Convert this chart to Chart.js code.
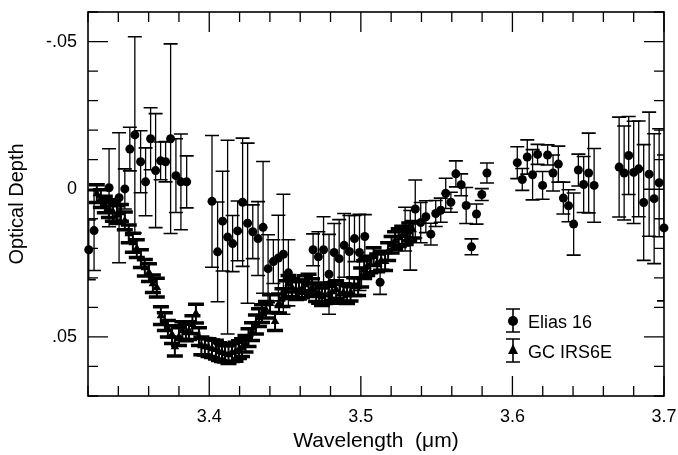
<!DOCTYPE html>
<html>
<head>
<meta charset="utf-8">
<script src="https://cdn.jsdelivr.net/npm/chart.js@4.4.0/dist/chart.umd.min.js"></script>
<style>
    html, body { margin: 0; padding: 0; background: #fff; }
    #myChart { display: block; }
</style>
</head>
<body>
<canvas id="myChart" width="678" height="455"></canvas>
<script>
// Elias 16 (circles)
var eliasX = [3.3205,3.3240,3.3339,3.3405,3.3443,3.3476,3.3509,3.3547,3.3580,3.3613,3.3646,3.3679,3.3712,3.3745,3.3780,3.3813,3.3851,
    3.4018,3.4055,3.4088,3.4121,3.4154,3.4187,3.4220,3.4253,3.4287,3.4322,3.4355,3.4388,3.4423,3.4456,3.4489,3.4522,
    3.4685,3.4720,3.4754,3.4790,3.4824,3.4857,3.4890,3.4924,3.4958,3.4991,3.5026,3.5127,
    3.5292,3.5326,3.5359,3.5395,3.5429,3.5462,3.5494,3.5527,3.5560,3.5594,3.5627,3.5662,3.5695,3.5730,3.5763,3.5798,3.5832,
    3.6032,3.6065,3.6098,3.6133,3.6166,3.6199,3.6232,3.6268,3.6303,3.6336,3.6370,3.6404,3.6435,3.6470,3.6503,3.6539,
    3.6704,3.6737,3.6767,3.6800,3.6833,3.6866,3.6902,3.6935,3.6968,3.7000];
var eliasY = [0.0205,0.0140,-0.0005,0.0029,-0.0001,-0.0136,-0.0184,-0.0093,-0.0025,-0.0171,-0.0063,-0.0096,-0.0093,-0.0171,-0.0046,-0.0025,-0.0025,
    0.0041,0.0212,0.0108,0.0162,0.0184,0.0141,0.0044,0.0115,0.0144,0.0167,0.0129,0.0269,0.0245,0.0233,0.0220,0.0283,
    0.0205,0.0229,0.0205,0.0288,0.0214,0.0235,0.0190,0.0211,0.0167,0.0214,0.0160,0.0315,
    0.0135,0.0173,0.0067,0.0113,0.0093,0.0152,0.0082,0.0071,0.0014,0.0044,-0.0052,-0.0015,0.0055,0.0195,0.0084,0.0018,-0.0055,
    -0.0090,-0.0033,-0.0109,-0.0049,-0.0118,-0.0013,-0.0116,-0.0055,-0.0085,0.0030,0.0056,0.0118,-0.0065,-0.0016,-0.0055,-0.0013,
    -0.0075,-0.0055,-0.0114,-0.0057,-0.0069,0.0045,-0.0051,0.0032,-0.0022,0.0131];
var eliasErr = [0.0101,0.0135,0.0132,0.0220,0.0068,0.0074,0.0332,0.0105,0.0115,0.0105,0.0193,0.0064,0.0068,0.0321,0.0125,0.0162,0.0088,
    0.0223,0.0169,0.0169,0.0328,0.0095,0.0101,0.0217,0.0271,0.0091,0.0125,0.0223,0.0115,0.0074,0.0145,0.0203,0.0112,
    0.0054,0.0085,0.0112,0.0135,0.0098,0.0132,0.0108,0.0122,0.0078,0.0129,0.0074,0.0041,
    0.0074,0.0101,0.0098,0.0068,0.0054,0.0037,0.0044,0.0041,0.0051,0.0034,0.0044,0.0037,0.0061,0.0027,0.0034,0.0020,0.0034,
    0.0054,0.0037,0.0058,0.0085,0.0034,0.0047,0.0034,0.0061,0.0061,0.0054,0.0054,0.0105,0.0054,0.0095,0.0135,0.0125,
    0.0169,0.0159,0.0132,0.0173,0.0162,0.0196,0.0210,0.0220,0.0183,0.0247];

// GC IRS6E (triangles)
var gcX = [3.3258,3.3285,3.3311,3.3338,3.3364,3.3391,3.3417,3.3443,3.3469,3.3496,
    3.3522,3.3549,3.3575,3.3602,3.3628,3.3654,3.3681,3.3707,3.3727,3.3754,
    3.3773,3.3800,3.3823,3.3846,3.3866,3.3889,3.3912,3.3932,3.3948,3.3971,
    3.3995,3.4018,3.4044,3.4064,3.4084,3.4104,3.4127,3.4150,3.4173,3.4196,
    3.4216,3.4239,3.4259,3.4282,3.4308,3.4328,3.4348,3.4374,3.4401,3.4434,
    3.4460,3.4483,3.4506,3.4523,3.4546,3.4572,3.4592,3.4612,3.4632,3.4655,
    3.4678,3.4705,3.4725,3.4744,3.4764,3.4787,3.4810,3.4837,3.4863,3.4886,
    3.4909,3.4932,3.4956,3.4982,3.5002,3.5022,3.5042,3.5062,3.5084,3.5108,
    3.5134,3.5160,3.5180,3.5203,3.5226,3.5250,3.5273,3.5296,3.5319,3.5342];
var gcY = [0.0015,0.0032,0.0052,0.0066,0.0076,0.0086,0.0080,0.0107,0.0151,0.0181,
    0.0201,0.0235,0.0266,0.0282,0.0320,0.0333,0.0428,0.0448,0.0472,0.0492,
    0.0533,0.0499,0.0479,0.0485,0.0479,0.0458,0.0421,0.0499,0.0530,0.0533,
    0.0536,0.0540,0.0543,0.0550,0.0553,0.0557,0.0560,0.0553,0.0550,0.0543,
    0.0536,0.0523,0.0502,0.0482,0.0458,0.0435,0.0421,0.0408,0.0387,0.0448,
    0.0387,0.0367,0.0340,0.0320,0.0333,0.0343,0.0340,0.0337,0.0323,0.0316,
    0.0333,0.0350,0.0354,0.0364,0.0357,0.0357,0.0347,0.0340,0.0354,0.0350,
    0.0357,0.0350,0.0330,0.0330,0.0299,0.0272,0.0262,0.0255,0.0228,0.0249,
    0.0242,0.0245,0.0211,0.0188,0.0174,0.0164,0.0157,0.0157,0.0144,0.0137];
var gcErr = [0.0030,0.0030,0.0028,0.0030,0.0032,0.0030,0.0028,0.0030,0.0030,0.0032,
    0.0030,0.0030,0.0028,0.0030,0.0030,0.0032,0.0030,0.0030,0.0028,0.0030,
    0.0032,0.0030,0.0030,0.0028,0.0030,0.0030,0.0032,0.0030,0.0030,0.0028,
    0.0030,0.0030,0.0032,0.0030,0.0030,0.0028,0.0030,0.0030,0.0032,0.0030,
    0.0030,0.0028,0.0030,0.0030,0.0032,0.0030,0.0030,0.0028,0.0030,0.0030,
    0.0032,0.0030,0.0030,0.0028,0.0030,0.0030,0.0032,0.0030,0.0030,0.0028,
    0.0030,0.0030,0.0032,0.0030,0.0030,0.0028,0.0030,0.0030,0.0032,0.0030,
    0.0030,0.0028,0.0030,0.0030,0.0032,0.0030,0.0030,0.0028,0.0030,0.0030,
    0.0032,0.0030,0.0030,0.0028,0.0030,0.0030,0.0032,0.0030,0.0030,0.0028];

var xMajor = [3.4, 3.5, 3.6, 3.7];
var yLabels = {'-0.05': '-.05', '0': '0', '0.05': '.05'};

var FONT = "'Liberation Sans', Arial, Helvetica, sans-serif";

function toPoints(xs, ys) {
    return xs.map(function(x, i){ return {x: x, y: ys[i]}; });
}

// error bars drawn under the markers
var errorBars = {
    id: 'errorBars',
    beforeDatasetsDraw: function(chart) {
        var ctx = chart.ctx, a = chart.chartArea;
        var xs = chart.scales.x, ys = chart.scales.y;
        var sets = [
            {x: eliasX, y: eliasY, e: eliasErr, lw: 1.3, capW: 1.6, cap: 7},
            {x: gcX, y: gcY, e: gcErr, lw: 2, capW: 3.5, cap: 8}
        ];
        ctx.save();
        ctx.beginPath();
        ctx.rect(a.left, a.top, a.right - a.left, a.bottom - a.top);
        ctx.clip();
        ctx.strokeStyle = '#000';
        sets.forEach(function(s){
            for (var i = 0; i < s.x.length; i++) {
                var px = xs.getPixelForValue(s.x[i]);
                var y1 = ys.getPixelForValue(s.y[i] - s.e[i]);
                var y2 = ys.getPixelForValue(s.y[i] + s.e[i]);
                ctx.lineWidth = s.lw;
                ctx.beginPath();
                ctx.moveTo(px, y1); ctx.lineTo(px, y2);
                ctx.stroke();
                ctx.lineWidth = s.capW;
                ctx.beginPath();
                ctx.moveTo(px - s.cap, y1); ctx.lineTo(px + s.cap, y1);
                ctx.moveTo(px - s.cap, y2); ctx.lineTo(px + s.cap, y2);
                ctx.stroke();
            }
        });
        ctx.restore();
    }
};

// frame with inward ticks on all four sides, plus the legend
var frameTicks = {
    id: 'frameTicks',
    afterDraw: function(chart) {
        var ctx = chart.ctx, a = chart.chartArea;
        var xs = chart.scales.x, ys = chart.scales.y;
        ctx.save();
        ctx.strokeStyle = '#000';
        ctx.lineWidth = 1.6;
        ctx.strokeRect(a.left, a.top, a.right - a.left, a.bottom - a.top);
        ctx.lineWidth = 1.3;
        ctx.beginPath();
        xs.ticks.forEach(function(t){
            var px = xs.getPixelForValue(t.value);
            var len = t.label ? 20 : 10;
            ctx.moveTo(px, a.bottom); ctx.lineTo(px, a.bottom - len);
            ctx.moveTo(px, a.top); ctx.lineTo(px, a.top + len);
        });
        ys.ticks.forEach(function(t){
            var py = ys.getPixelForValue(t.value);
            var len = t.label ? 20 : 10;
            ctx.moveTo(a.left, py); ctx.lineTo(a.left + len, py);
            ctx.moveTo(a.right, py); ctx.lineTo(a.right - len, py);
        });
        ctx.stroke();

        // legend
        var lx = 513;
        ctx.lineWidth = 1.6;
        ctx.beginPath();
        ctx.moveTo(lx, 309); ctx.lineTo(lx, 332);
        ctx.moveTo(lx - 7, 309); ctx.lineTo(lx + 7, 309);
        ctx.moveTo(lx - 7, 332); ctx.lineTo(lx + 7, 332);
        ctx.moveTo(lx, 339); ctx.lineTo(lx, 362);
        ctx.moveTo(lx - 7, 339); ctx.lineTo(lx + 7, 339);
        ctx.moveTo(lx - 7, 362); ctx.lineTo(lx + 7, 362);
        ctx.stroke();
        ctx.fillStyle = '#000';
        ctx.beginPath();
        ctx.arc(lx, 321, 5, 0, Math.PI * 2);
        ctx.fill();
        ctx.beginPath();
        ctx.moveTo(lx, 344); ctx.lineTo(lx + 5, 354); ctx.lineTo(lx - 5, 354);
        ctx.closePath();
        ctx.fill();
        ctx.font = '18px ' + FONT;
        ctx.textAlign = 'left';
        ctx.textBaseline = 'alphabetic';
        ctx.fillText('Elias 16', 528, 328);
        ctx.fillText('GC IRS6E', 528, 358);
        ctx.restore();
    }
};

window.onload = function(){
    Chart.defaults.color = '#000';
    Chart.defaults.font.family = FONT;
    var ctx = document.getElementById('myChart').getContext('2d');
    window.myChart = new Chart(ctx, {
        type: 'scatter',
        data: {
            datasets: [{
                label: 'Elias 16',
                data: toPoints(eliasX, eliasY),
                pointStyle: 'circle',
                pointRadius: 4.5,
                backgroundColor: '#000',
                borderWidth: 0
            }, {
                label: 'GC IRS6E',
                data: toPoints(gcX, gcY),
                pointStyle: 'triangle',
                pointRadius: 5,
                backgroundColor: '#000',
                borderColor: '#000',
                borderWidth: 0
            }]
        },
        options: {
            responsive: false,
            animation: false,
            devicePixelRatio: 1,
            clip: false,
            layout: { padding: { top: 12, right: 14, left: 0, bottom: 0 } },
            plugins: {
                legend: { display: false },
                tooltip: { enabled: false }
            },
            scales: {
                x: {
                    type: 'linear',
                    min: 3.32,
                    max: 3.7,
                    grid: { display: false, drawTicks: false },
                    border: { display: false },
                    ticks: {
                        stepSize: 0.02,
                        autoSkip: false,
                        maxRotation: 0,
                        padding: 10,
                        font: { size: 18 },
                        callback: function(v){
                            for (var i = 0; i < xMajor.length; i++) {
                                if (Math.abs(v - xMajor[i]) < 1e-6) return xMajor[i].toFixed(1);
                            }
                            return '';
                        }
                    },
                    title: {
                        display: true,
                        text: 'Wavelength  (\u03bcm)',
                        font: { size: 21 },
                        padding: { top: 0, bottom: 1 }
                    },
                    afterFit: function(s){
                        s.height = 59;
                        s.paddingLeft = 0;
                        s.paddingRight = 0;
                    }
                },
                y: {
                    type: 'linear',
                    reverse: true,
                    min: -0.06,
                    max: 0.07,
                    grid: { display: false, drawTicks: false },
                    border: { display: false },
                    ticks: {
                        stepSize: 0.01,
                        autoSkip: false,
                        padding: 11,
                        font: { size: 18 },
                        callback: function(v){
                            var k = (Math.round(v * 100) / 100).toString();
                            return yLabels[k] !== undefined && Math.abs(v * 100 - Math.round(v * 100)) < 1e-6 ? yLabels[k] : '';
                        }
                    },
                    title: {
                        display: true,
                        text: 'Optical Depth',
                        font: { size: 20 },
                        padding: { top: 5, bottom: 0 }
                    },
                    afterFit: function(s){
                        s.width = 88;
                        s.paddingTop = 0;
                        s.paddingBottom = 0;
                    }
                }
            }
        },
        plugins: [errorBars, frameTicks]
    });
};
</script>
</body>
</html>
